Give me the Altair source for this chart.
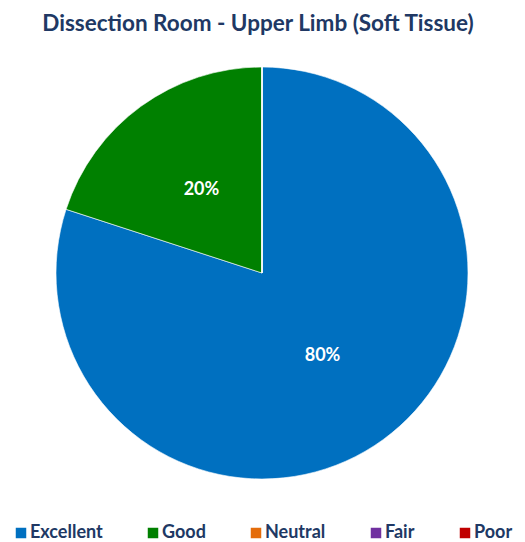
import altair as alt
import pandas as pd

categories = ["Excellent", "Good", "Neutral", "Fair", "Poor"]
values = [80, 20, 0, 0, 0]
labels = ["80%", "20%", "", "", ""]
colors = ["#0070C0", "#008000", "#E46C0A", "#7030A0", "#C00000"]

df = pd.DataFrame({"category": categories, "value": values, "label": labels,
                   "order": list(range(len(categories)))})

navy = "#203864"
font = "Lato"

base = alt.Chart(df).encode(
    theta=alt.Theta("value:Q", stack=True),
    order=alt.Order("order:Q"),
)

pie = base.mark_arc(outerRadius=206, stroke="white", strokeWidth=0.6).encode(
    color=alt.Color(
        "category:N",
        scale=alt.Scale(domain=categories, range=colors),
        sort=categories,
        legend=alt.Legend(
            title=None,
            orient="none",
            direction="horizontal",
            legendX=4,
            legendY=461,
            symbolType="square",
            symbolSize=110,
            symbolStrokeWidth=0,
            symbolOpacity=1,
            labelFont=font,
            labelFontSize=18,
            labelFontWeight="bold",
            labelColor=navy,
            labelOffset=0,
            columnPadding=41,
        ),
    )
)

text = base.mark_text(radius=103, font=font, fontSize=18, fontWeight="bold",
                      color="white").encode(text="label:N").transform_filter(
    alt.datum.value > 0)

chart = alt.layer(pie, text).properties(
    width=508,
    height=420,
    autosize=alt.AutoSizeParams(type="none"),
    padding={"top": 55, "left": 0, "right": 1, "bottom": 66},
    title=alt.Title(
        "Dissection Room - Upper Limb (Soft Tissue)",
        font=font,
        fontSize=22.5,
        fontWeight="bold",
        color=navy,
        anchor="middle",
        offset=28,
        dx=-4,
    ),
).configure_view(stroke=None)

chart.save("out.html", embed_options={"renderer": "svg", "actions": False})
